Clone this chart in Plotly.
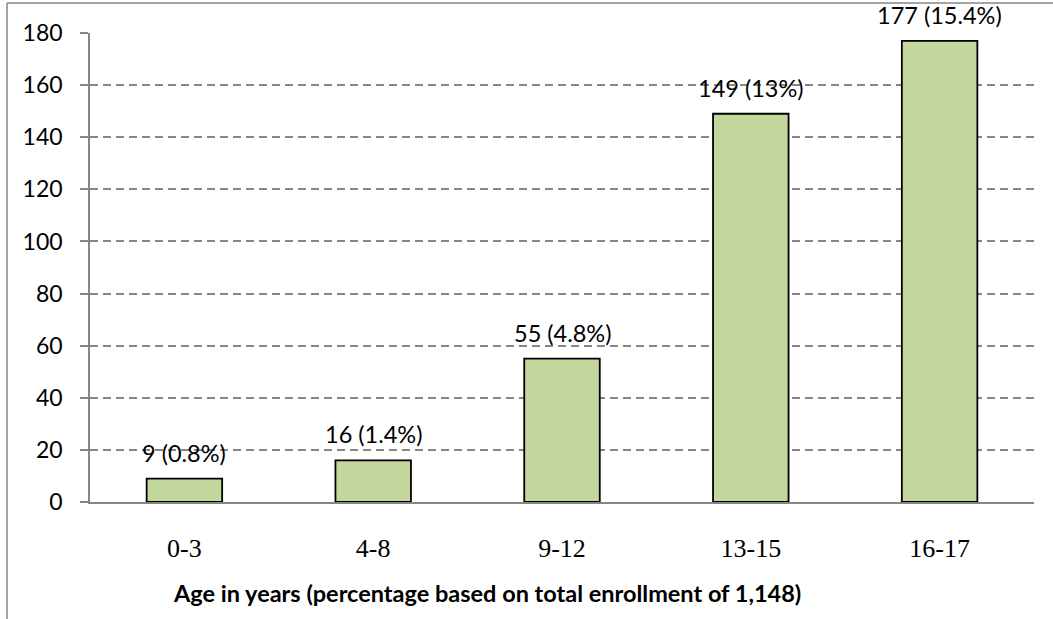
import plotly.graph_objects as go

categories = ["0-3", "4-8", "9-12", "13-15", "16-17"]
counts = [9, 16, 55, 149, 177]
percent_labels = ["0.8%", "1.4%", "4.8%", "13%", "15.4%"]
y_ticks = [0, 20, 40, 60, 80, 100, 120, 140, 160, 180]
x_title = "Age in years (percentage based on total enrollment of 1,148)"

W, H = 1053, 619
L, R, T, B = 90, 19, 33, 117
pw, ph = W - L - R, H - T - B

fig = go.Figure()
fig.add_trace(go.Bar(
    x=categories, y=counts,
    marker=dict(color="#C3D69B", line=dict(color="#000000", width=1.8)),
    width=0.4,
    hoverinfo="x+y",
))

for c, v, p in zip(categories, counts, percent_labels):
    fig.add_annotation(
        x=c, y=v, xref="x", yref="y",
        text=f"{v} ({p})", showarrow=False,
        yanchor="bottom", xanchor="center", yshift=10,
        font=dict(family="Lato", size=23.5, color="#000000"),
    )

fig.add_annotation(
    x=(487 - L) / pw, y=(H - B - 593) / ph, xref="paper", yref="paper",
    text=f"<b>{x_title}</b>", showarrow=False,
    xanchor="center", yanchor="middle",
    font=dict(family="Lato", size=23.5, color="#000000"),
)

# outer frame lines (top and left only)
fig.add_shape(type="line", xref="paper", yref="paper",
              x0=(7 - L) / pw, x1=(W - L) / pw, y0=(H - B - 3) / ph, y1=(H - B - 3) / ph,
              line=dict(color="#868686", width=1.5))
fig.add_shape(type="line", xref="paper", yref="paper",
              x0=(7 - L) / pw, x1=(7 - L) / pw, y0=(H - B - 3) / ph, y1=(H - B - H) / ph,
              line=dict(color="#868686", width=1.5))

fig.update_layout(
    width=W, height=H,
    margin=dict(l=L, r=R, t=T, b=B, autoexpand=False),
    paper_bgcolor="white", plot_bgcolor="white",
    showlegend=False,
    bargap=0.6,
    xaxis=dict(
        type="category",
        showgrid=False, showline=True, linecolor="#868686", linewidth=2,
        ticks="", ticklabelstandoff=22,
        tickfont=dict(family="Liberation Serif", size=26, color="#000000"),
        zeroline=False,
    ),
    yaxis=dict(
        range=[0, 180], tickvals=y_ticks,
        showline=True, linecolor="#868686", linewidth=1.5,
        ticks="outside", ticklen=8, tickcolor="#868686", tickwidth=1.5,
        ticklabelstandoff=13,
        tickfont=dict(family="Lato", size=23, color="#000000"),
        showgrid=True, gridcolor="#868686", gridwidth=1.5, griddash="8px,5px",
        zeroline=False,
    ),
)

fig.write_html("out.html")
